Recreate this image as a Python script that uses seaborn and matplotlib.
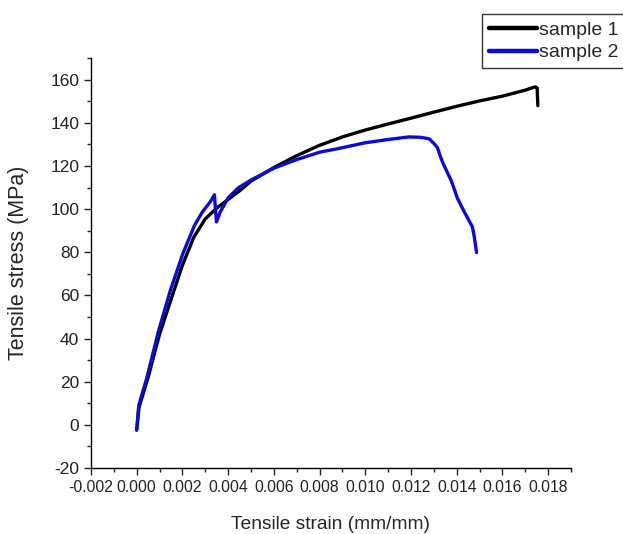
import pandas as pd
import matplotlib.pyplot as plt
from matplotlib.ticker import MultipleLocator, FormatStrFormatter
import seaborn as sns

# values
strain_1 = [0.0, 0.0001, 0.0005, 0.001, 0.0015, 0.002, 0.0025, 0.003, 0.0035, 0.004,
            0.0045, 0.005, 0.006, 0.007, 0.008, 0.009, 0.010, 0.011, 0.012, 0.013,
            0.014, 0.015, 0.016, 0.017, 0.01743, 0.01752, 0.01755]
stress_1 = [-2.4, 8, 22, 42, 58, 74, 87, 95.5, 100.5, 104.5,
            108.5, 113, 119.3, 124.8, 129.6, 133.5, 136.7, 139.5, 142.2, 145,
            147.7, 150.2, 152.4, 155.2, 156.7, 156.2, 148]

strain_2 = [0.0, 0.00009, 0.00044, 0.00096, 0.00148, 0.00201, 0.00253, 0.00288, 0.00323, 0.0034,
            0.00349, 0.00366, 0.00401, 0.00445, 0.005, 0.006, 0.007, 0.008, 0.009, 0.010,
            0.011, 0.0119, 0.01245, 0.0128, 0.0130, 0.01316, 0.0133, 0.01342, 0.01377, 0.01403,
            0.01429, 0.01455, 0.01468, 0.01476, 0.01487]
stress_2 = [-2.4, 9, 21.6, 43.7, 62.6, 79.1, 92.5, 98.8, 103.6, 106.7,
            94.1, 98.8, 105.4, 109.9, 113.5, 119, 123, 126.4, 128.5, 130.8,
            132.3, 133.5, 133.3, 132.6, 130.5, 128.5, 124, 120.9, 113.0, 105.1,
            99.6, 94.5, 92, 87.8, 79.9]

df = pd.concat([
    pd.DataFrame({'strain': strain_1, 'stress': stress_1, 'sample': 'sample 1'}),
    pd.DataFrame({'strain': strain_2, 'stress': stress_2, 'sample': 'sample 2'}),
], ignore_index=True)

sns.set_style('ticks')
plt.rcParams['font.family'] = ['Liberation Sans', 'DejaVu Sans']

fig = plt.figure(figsize=(6.23, 5.34), dpi=100)
axes = fig.add_axes([0.146, 0.1236, 0.7705, 0.7674])

sns.lineplot(data=df, x='strain', y='stress', hue='sample', sort=False, estimator=None,
             palette={'sample 1': 'black', 'sample 2': '#0b0bd6'}, linewidth=2.4,
             ax=axes, legend=False)

axes.set_xlim(-0.002, 0.019)
axes.set_ylim(-20, 170)
axes.xaxis.set_major_locator(MultipleLocator(0.002))
axes.xaxis.set_minor_locator(MultipleLocator(0.001))
axes.yaxis.set_major_locator(MultipleLocator(20))
axes.yaxis.set_minor_locator(MultipleLocator(10))
axes.xaxis.set_major_formatter(FormatStrFormatter('%.3f'))
axes.yaxis.set_major_formatter(FormatStrFormatter('%d'))
axes.tick_params(which='major', direction='out', length=5, width=1, colors='#222222')
axes.tick_params(axis='x', which='major', labelsize=11.3, pad=4)
axes.tick_params(axis='y', which='major', labelsize=12.5)
axes.tick_params(which='minor', direction='out', length=3, width=1)
for side in ['top', 'right']:
    axes.spines[side].set_visible(False)
for side in ['left', 'bottom']:
    axes.spines[side].set_linewidth(1)
    axes.spines[side].set_color('black')

axes.set_xlabel('Tensile strain (mm/mm)', fontsize=13.8, labelpad=15)
axes.set_ylabel('Tensile stress (MPa)', fontsize=15.5, labelpad=15)

handles = [plt.Line2D([], [], color='black', linewidth=3.2),
           plt.Line2D([], [], color='#0b0bd6', linewidth=3.2)]
leg = fig.legend(handles, ['sample 1', 'sample 2'], loc='upper right',
                 bbox_to_anchor=(1.004, 0.973), fontsize=14, frameon=True,
                 fancybox=False, handlelength=2.5, handletextpad=0.1,
                 borderpad=0.35, labelspacing=0.25, borderaxespad=0)
leg.get_frame().set_edgecolor('black')
leg.get_frame().set_linewidth(1)

plt.savefig('out.png', dpi=100)
plt.close()
